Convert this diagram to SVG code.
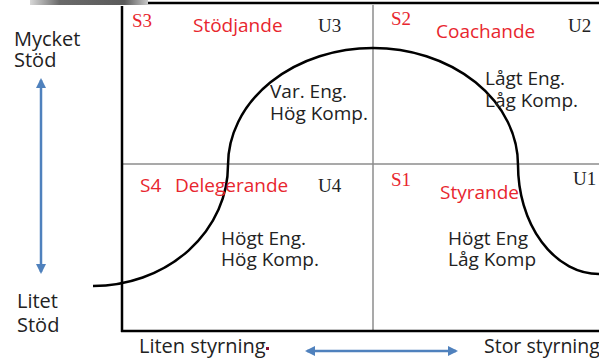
<svg xmlns="http://www.w3.org/2000/svg" width="599" height="359" viewBox="0 0 599 359">
  <defs>
    <linearGradient id="smudge" x1="0" y1="0" x2="1" y2="0">
      <stop offset="0" stop-color="#d8d8d8"/>
      <stop offset="0.25" stop-color="#6a6a6a"/>
      <stop offset="0.8" stop-color="#5a5a5a"/>
      <stop offset="1" stop-color="#c8c8c8"/>
    </linearGradient>
    <marker id="head" viewBox="0 0 10 10" refX="8" refY="5" markerWidth="4" markerHeight="4" orient="auto-start-reverse">
      <path d="M0 0 L10 5 L0 10 Z" fill="#4f81bd"/>
    </marker>
  </defs>
  <style>
    .sans { font-family: "Open Sans", "Noto Sans", "Liberation Sans", sans-serif; }
    .serif { font-family: "Liberation Serif", "Times New Roman", serif; font-size: 19px; }
    .red { fill: #e8262e; }
    .dark { fill: #222222; }
    .q { font-size: 19px; }
    .ax { font-size: 20px; fill: #222222; }
    .axis { stroke: #000000; stroke-width: 2.5; fill: none; }
    .grid { stroke: #8c8c8c; stroke-width: 1.5; fill: none; }
    .arrow { stroke: #4f81bd; stroke-width: 2.5; fill: none; marker-start: url(#head); marker-end: url(#head); }
    .curve { stroke: #000000; stroke-width: 2.5; fill: none; }
  </style>

  <rect width="599" height="359" fill="#ffffff"/>
  <!-- grey strip at the top left -->
  <rect x="30" y="0" width="118" height="5" fill="url(#smudge)"/>

  <!-- frame and quadrant dividers -->
  <g id="frame">
    <line class="grid" x1="373" y1="5" x2="373" y2="331"/>
    <line class="grid" x1="122" y1="164" x2="599" y2="164"/>
    <line class="axis" x1="148" y1="3" x2="599" y2="3"/>
    <line class="axis" x1="122" y1="6" x2="122" y2="332"/>
    <line class="axis" x1="121" y1="331" x2="599" y2="331"/>
  </g>

  <!-- development curve and axis arrows -->
  <g id="connectors">
    <path class="curve" d="M 93 286 A 135 121 0 0 0 228 165 A 145 117 0 0 1 518 165 A 81 109 0 0 0 599 274"/>
    <line class="arrow" x1="41" y1="80" x2="41" y2="272"/>
    <line class="arrow" x1="307" y1="351" x2="456" y2="351"/>
  </g>

  <!-- axis labels -->
  <g id="axis-labels">
    <text class="sans ax" x="14" y="46">Mycket</text>
    <text class="sans ax" x="14" y="67">Stöd</text>
    <text class="sans ax" x="17" y="308">Litet</text>
    <text class="sans ax" x="17" y="332">Stöd</text>
    <text class="sans ax" x="139" y="353">Liten styrning</text>
    <text class="sans ax" x="484" y="353" style="font-size:19.5px">Stor styrning</text>
    <rect x="266" y="347" width="3" height="3" fill="#8a1030"/>
  </g>

  <!-- S3 quadrant -->
  <g id="s3">
    <text class="serif red" x="132" y="27">S3</text>
    <text class="sans q red" x="193" y="32">Stödjande</text>
    <text class="serif dark" x="318" y="32">U3</text>
    <text class="sans q dark" x="270" y="98">Var. Eng.</text>
    <text class="sans q dark" x="270" y="120">Hög Komp.</text>
  </g>

  <!-- S2 quadrant -->
  <g id="s2">
    <text class="serif red" x="391" y="25">S2</text>
    <text class="sans q red" x="436" y="38">Coachande</text>
    <text class="serif dark" x="568" y="32">U2</text>
    <text class="sans q dark" x="485" y="85">Lågt Eng.</text>
    <text class="sans q dark" x="485" y="107">Låg Komp.</text>
  </g>

  <!-- S4 quadrant -->
  <g id="s4">
    <text class="sans q red" x="140" y="192">S4</text>
    <text class="sans q red" x="175" y="192">Delegerande</text>
    <text class="serif dark" x="318" y="192">U4</text>
    <text class="sans q dark" x="221" y="245">Högt Eng.</text>
    <text class="sans q dark" x="221" y="266">Hög Komp.</text>
  </g>

  <!-- S1 quadrant -->
  <g id="s1">
    <text class="serif red" x="391" y="186">S1</text>
    <text class="sans q red" x="440" y="199">Styrande</text>
    <text class="serif dark" x="573" y="185">U1</text>
    <text class="sans q dark" x="448" y="245">Högt Eng</text>
    <text class="sans q dark" x="448" y="266">Låg Komp</text>
  </g>
</svg>
